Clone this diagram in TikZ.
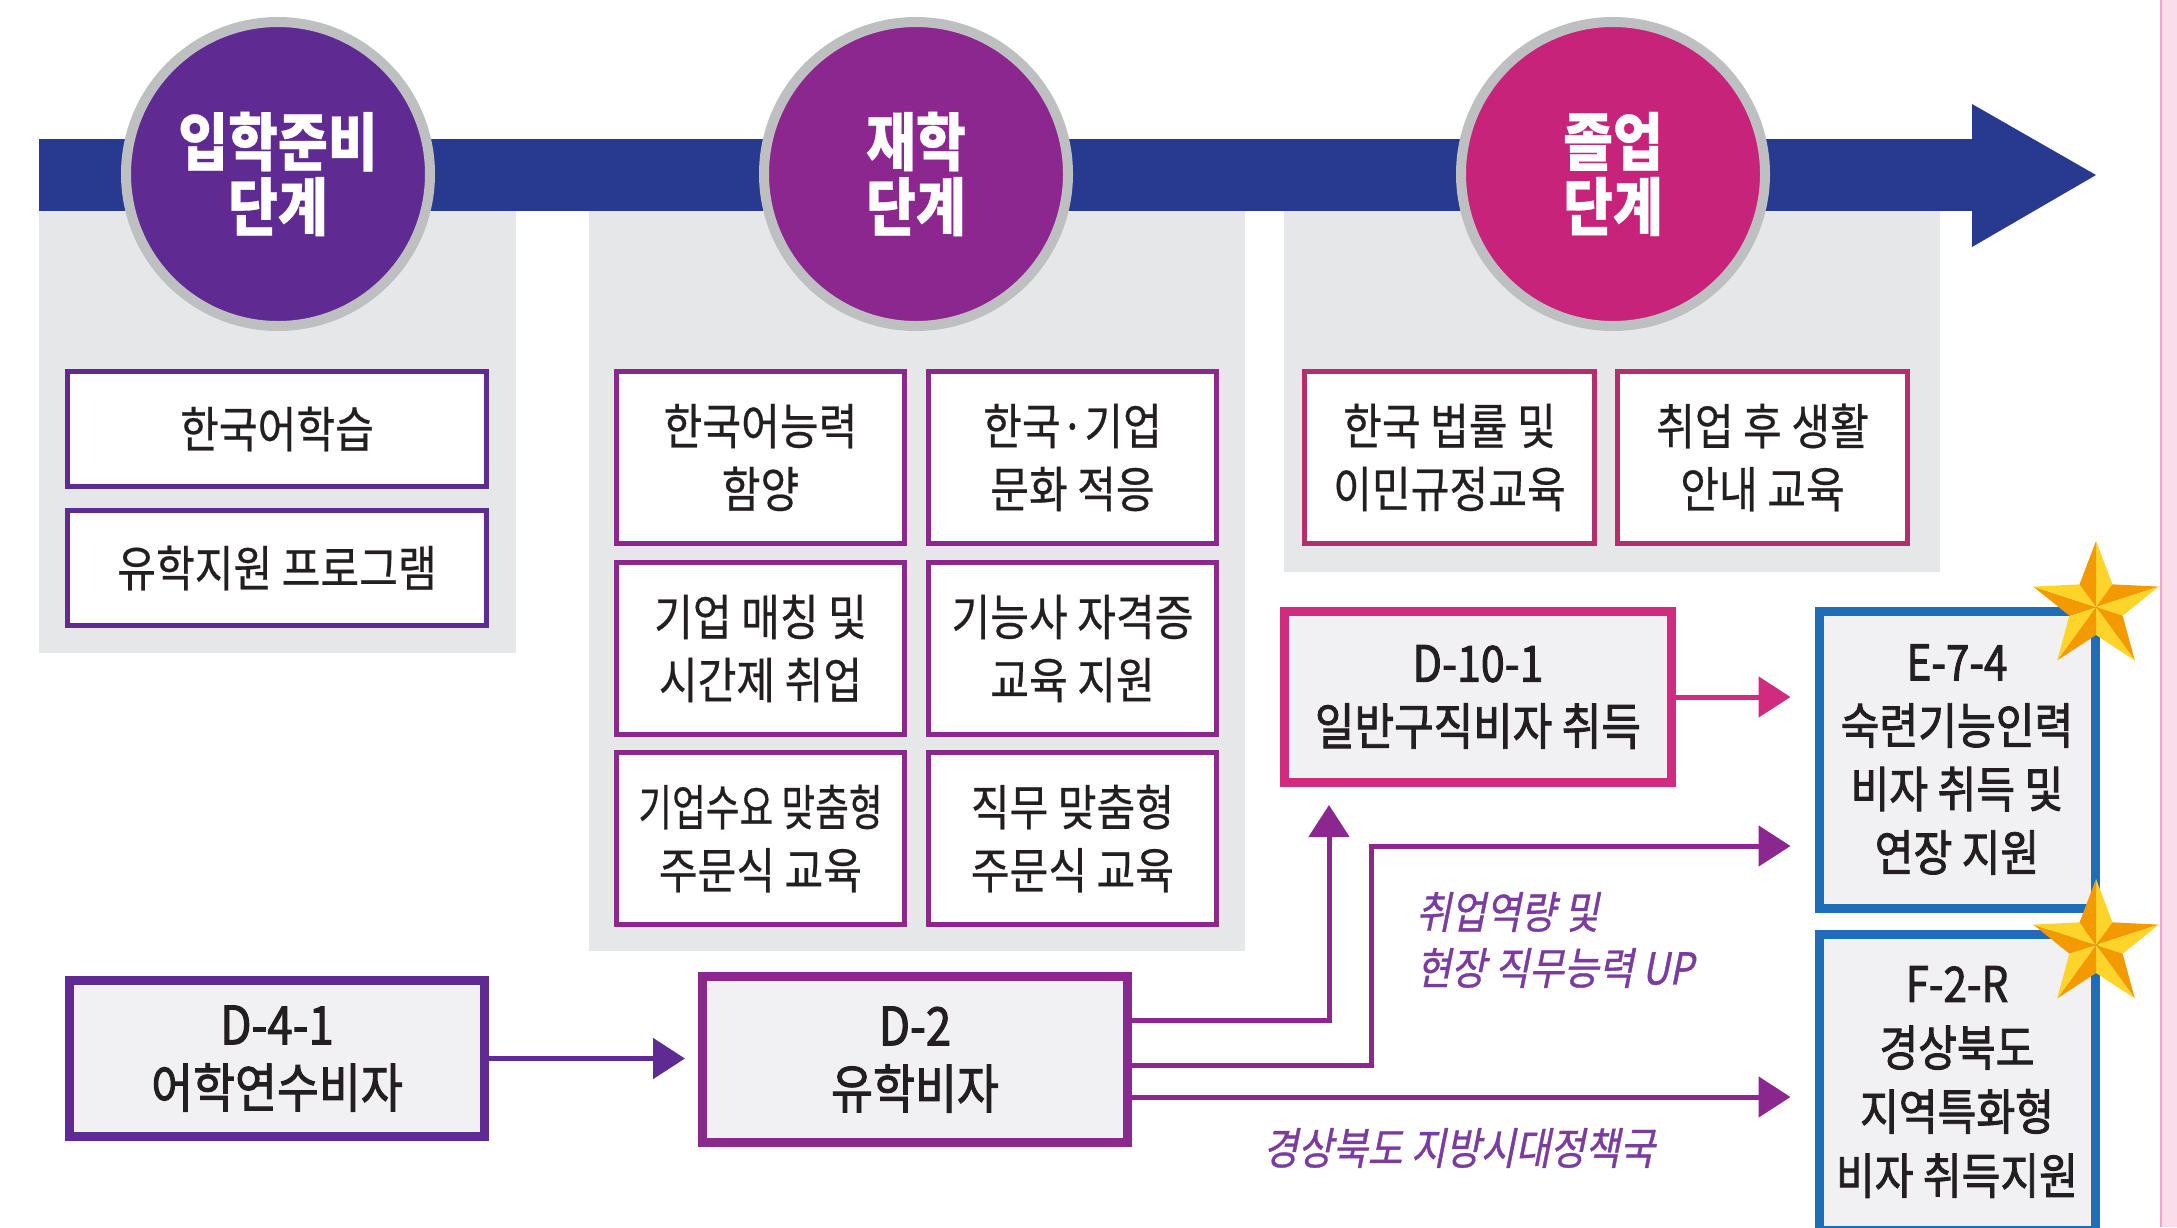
\documentclass[tikz,border=0pt]{standalone}
\usepackage{fontspec}
\usepackage{graphicx}
\setmainfont{Noto Sans CJK KR}[FakeStretch=0.86,FakeBold=0.5]
\newfontfamily\medfont{Noto Sans CJK KR}[FakeStretch=0.86,FakeBold=1.8]
\newfontfamily\itfont{Noto Sans CJK KR}[FakeStretch=0.86,FakeSlant=0.2,FakeBold=0.8]
\usetikzlibrary{arrows.meta,calc}
\definecolor{barblue}{HTML}{283A8F}
\definecolor{pur}{HTML}{5F2B92}
\definecolor{mag}{HTML}{8D2790}
\definecolor{pnk}{HTML}{C8237A}
\definecolor{pnkb}{HTML}{B52E6C}
\definecolor{pnkd}{HTML}{D12B7F}
\definecolor{vblue}{HTML}{1E6EB7}
\definecolor{panel}{HTML}{E6E7E9}
\definecolor{vfill}{HTML}{F1F1F3}
\definecolor{ring}{HTML}{BDBFC1}
\definecolor{txt}{HTML}{231F20}
\definecolor{lblc}{HTML}{7A3C9E}
\definecolor{starA}{HTML}{FFD42A}
\definecolor{starB}{HTML}{F29A00}
\definecolor{side}{HTML}{F9DDEB}
\definecolor{sideline}{HTML}{EBA8CB}
\newcommand\myphasefont{\fontsize{63}{65}\selectfont\bfseries}
\newcommand\myboxfont{\fontsize{49}{63}\selectfont}
\tikzset{
  phase/.style={circle, fill=#1, draw=ring, line width=10pt, minimum size=304pt, inner sep=0pt, text=white, font=\myphasefont, align=center},
  item/.style={draw=#1, fill=white, line width=5pt, inner sep=0pt, align=center, text=txt, font=\myboxfont},
  visa/.style={draw=#1, fill=vfill, line width=9pt, inner sep=0pt, align=center, text=txt},
  arr/.style={line width=5pt, draw=#1, -{Triangle[length=32pt,width=40pt]}},
  lbl/.style={text=lblc, font=\itfont\fontsize{44}{56}\selectfont, inner sep=0pt}
}
\begin{document}
\begin{tikzpicture}[x=1pt,y=-1pt]
\useasboundingbox (0,0) rectangle (2177,1227);
\clip (0,0) rectangle (2177,1227);
\fill[white] (0,0) rectangle (2177,1227);
% panels
\fill[panel] (39,175) rectangle (516,653);
\fill[panel] (589,175) rectangle (1245,951);
\fill[panel] (1284,175) rectangle (1940,572);
% timeline bar
\fill[barblue] (39,139) rectangle (1972,211);
\fill[barblue] (1972,104) -- (2096,175) -- (1972,247) -- cycle;
% phase circles
\node[phase=pur] (c1) at (278,174) {입학준비\\단계};
\node[phase=mag] (c2) at (916,174) {재학\\단계};
\node[phase=pnk] (c3) at (1613,174) {졸업\\단계};
% panel 1 items
\node[item=pur, minimum width=419pt, minimum height=115pt] (p1a) at (277,429) {한국어학습};
\node[item=pur, minimum width=419pt, minimum height=115pt] (p1b) at (277,568) {유학지원 프로그램};
% panel 2 items
\node[item=mag, minimum width=288pt, minimum height=172pt] (p2a) at (760.5,457.5) {한국어능력\\함양};
\node[item=mag, minimum width=288pt, minimum height=172pt] (p2b) at (1072.5,457.5) {한국·기업\\문화 적응};
\node[item=mag, minimum width=288pt, minimum height=172pt] (p2c) at (760.5,648.5) {기업 매칭 및\\시간제 취업};
\node[item=mag, minimum width=288pt, minimum height=172pt] (p2d) at (1072.5,648.5) {기능사 자격증\\교육 지원};
\node[item=mag, minimum width=288pt, minimum height=172pt] (p2e) at (760.5,838.5) {\scalebox{0.87}[1]{기업수요 맞춤형}\\주문식 교육};
\node[item=mag, minimum width=288pt, minimum height=172pt] (p2f) at (1072.5,838.5) {직무 맞춤형\\주문식 교육};
% panel 3 items
\node[item=pnkb, minimum width=290pt, minimum height=172pt] (p3a) at (1449.5,457.5) {한국 법률 및\\이민규정교육};
\node[item=pnkb, minimum width=290pt, minimum height=172pt] (p3b) at (1762.5,457.5) {취업 후 생활\\안내 교육};
% visa boxes
\node[visa=pur, minimum width=415pt, minimum height=156pt, font=\medfont\fontsize{53}{63}\selectfont] (d41) at (277,1058.5) {D-4-1\\어학연수비자};
\node[visa=mag, minimum width=425pt, minimum height=166pt, font=\medfont\fontsize{53}{63}\selectfont] (d2) at (915,1059.5) {D-2\\유학비자};
\node[visa=pnkd, minimum width=387pt, minimum height=171pt, font=\medfont\fontsize{50}{63}\selectfont] (d101) at (1478,697) {D-10-1\\일반구직비자 취득};
\node[visa=vblue, minimum width=276pt, minimum height=297pt, font=\medfont\fontsize{49}{63.5}\selectfont] (e74) at (1957,759.5) {E-7-4\\숙련기능인력\\비자 취득 및\\연장 지원};
\node[visa=vblue, minimum width=276pt, minimum height=296pt, font=\medfont\fontsize{49}{64}\selectfont] (f2r) at (1957,1082) {F-2-R\\경상북도\\지역특화형\\비자 취득지원};
% connectors
\draw[arr=pur, shorten >=13pt] (d41.east) -- (d41.east -| d2.west);
\draw[arr=pnkd, shorten >=24pt] (d101.east) -- (d101.east -| e74.west);
\draw[arr=mag, shorten >=18pt] ([yshift=39.5pt]d2.east) -| ([xshift=49pt]d101.south west);
\draw[arr=mag, shorten >=24pt] ([yshift=-5.5pt]d2.east) -| ([xshift=-443pt,yshift=-86.5pt]e74.west) -- ([yshift=-86.5pt]e74.west);
\draw[arr=mag, shorten >=24pt] ([yshift=-37.5pt]d2.east) -- ([yshift=-37.5pt]d2.east -| f2r.west);
% labels
\node[lbl, anchor=west] (l1) at (1416,912) {취업역량 및};
\node[lbl, anchor=west] (l2) at (1416,968) {현장 직무능력 UP};
\node[lbl, anchor=west] (l3) at (1263,1148) {경상북도 지방시대정책국};
% stars
\foreach \cx/\cy in {2096/607, 2096/945} {
  \coordinate (s) at (\cx,\cy);
  \foreach \k in {0,...,4} {
    \fill[starA] (s) -- ($(s)+({270+72*\k}:66)$) -- ($(s)+({306+72*\k}:28)$) -- cycle;
    \fill[starB] (s) -- ($(s)+({306+72*\k}:28)$) -- ($(s)+({342+72*\k}:66)$) -- cycle;
  }
}
% side strip
\fill[side] (2160,0) rectangle (2177,1227);
\draw[sideline, line width=2pt] (2161,0) -- (2161,1227);
\end{tikzpicture}
\end{document}
